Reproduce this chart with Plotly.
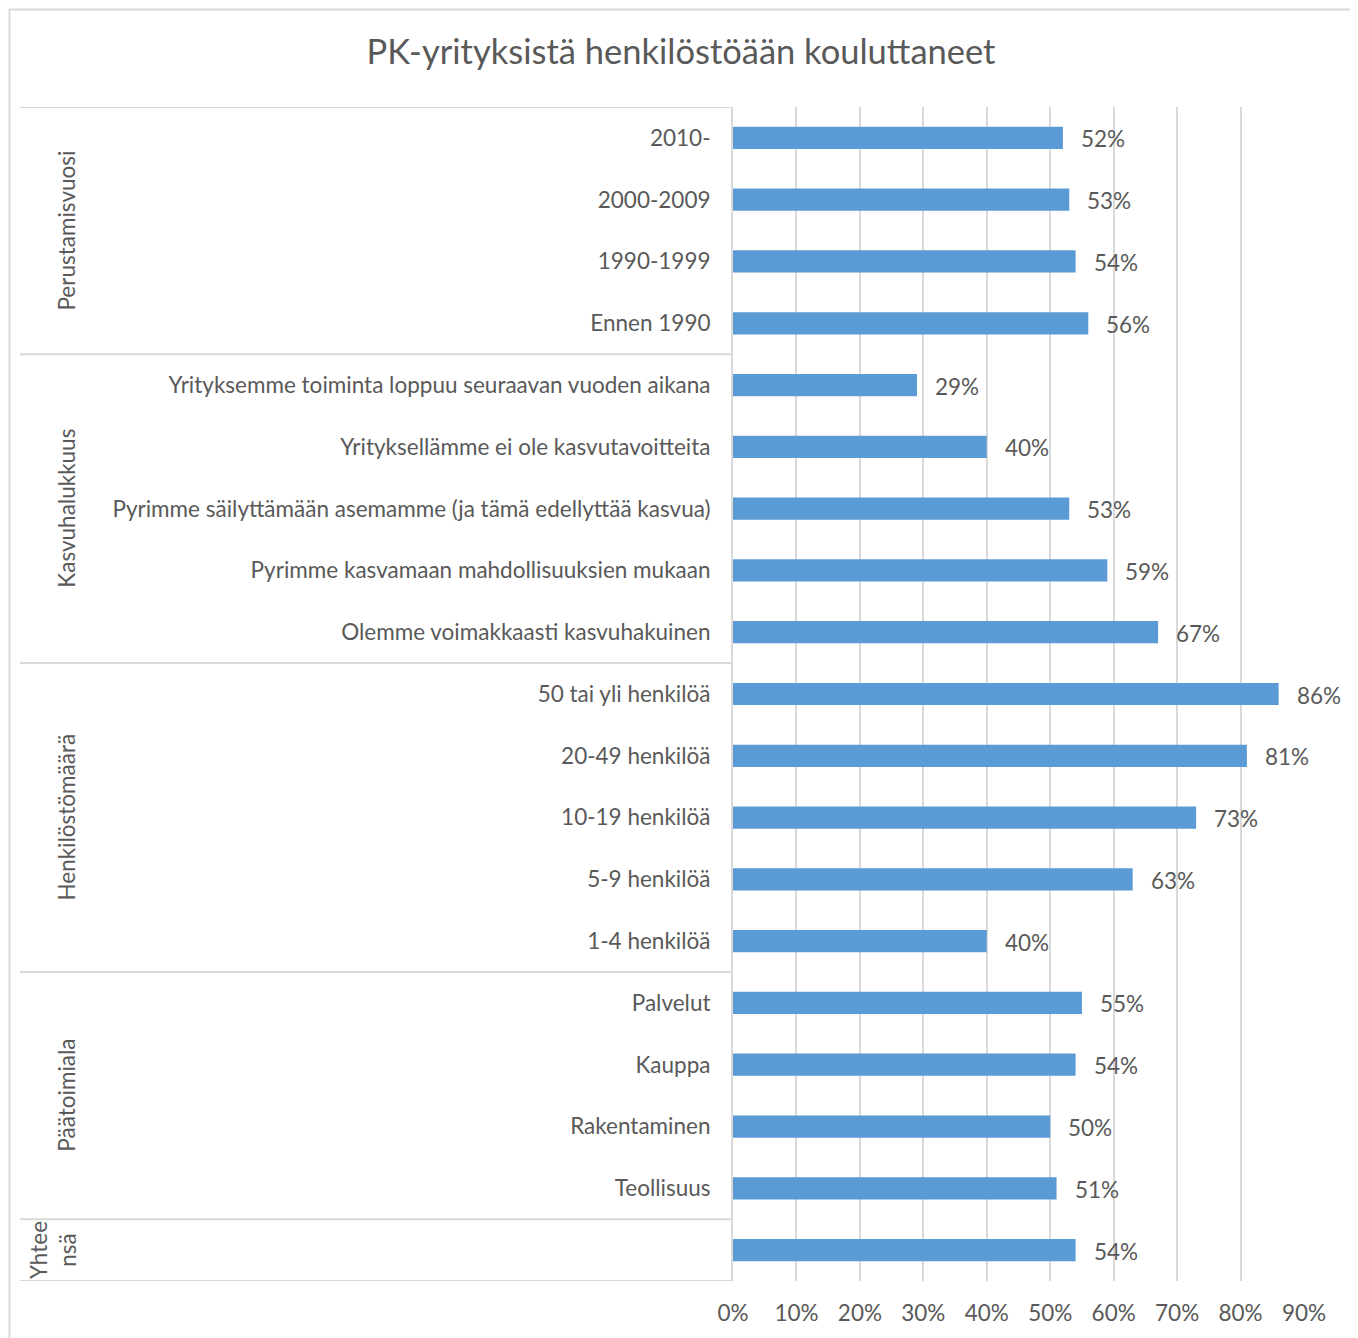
import plotly.graph_objects as go

# rows top to bottom
groups = ["Perustamisvuosi", "Kasvuhalukkuus", "Henkilöstömäärä", "Päätoimiala", "Yhtee<br>nsä"]
group_sizes = [4, 5, 5, 4, 1]
categories = ["2010-", "2000-2009", "1990-1999", "Ennen 1990",
              "Yrityksemme toiminta loppuu seuraavan vuoden aikana",
              "Yrityksellämme ei ole kasvutavoitteita",
              "Pyrimme säilyttämään asemamme (ja tämä edellyttää kasvua)",
              "Pyrimme kasvamaan mahdollisuuksien mukaan",
              "Olemme voimakkaasti kasvuhakuinen",
              "50 tai yli henkilöä", "20-49 henkilöä", "10-19 henkilöä", "5-9 henkilöä", "1-4 henkilöä",
              "Palvelut", "Kauppa", "Rakentaminen", "Teollisuus",
              ""]
values = [52, 53, 54, 56,
          29, 40, 53, 59, 67,
          86, 81, 73, 63, 40,
          55, 54, 50, 51,
          54]
xticks = [0, 10, 20, 30, 40, 50, 60, 70, 80, 90]

W, H = 1358, 1338
OFF = 8  # page body margin
L, R, T, B = 733 - OFF, 1304 - OFF, 107 - OFF, 1281 - OFF   # plot area in figure pixels
grey = "#595959"
line = "#D9D9D9"
font = "Lato"
fs = 22.5

def px(x):  # page pixel -> paper x
    return (x - OFF - L) / (R - L)

def py(y):  # page pixel -> paper y
    return (B - (y - OFF)) / (B - T)

idx = list(range(len(values)))
xs = [v / 100 for v in values]

fig = go.Figure()
fig.add_trace(go.Bar(x=xs, y=idx, orientation="h", width=0.36,
                     marker=dict(color="#5B9BD5", line_width=0)))

shapes = []
# outer chart border
shapes.append(dict(type="rect", xref="paper", yref="paper",
                   x0=px(9.5), x1=px(1354), y0=py(1360), y1=py(9.5),
                   line=dict(color=line, width=2), layer="below"))
# group separators
b = -0.5
bounds = [b]
for s in group_sizes:
    b += s
    bounds.append(b)
for yb in bounds:
    shapes.append(dict(type="line", xref="paper", yref="y", x0=px(20), x1=0,
                       y0=yb, y1=yb, line=dict(color=line, width=2)))

annotations = []
# data labels
for xv, yv, v in zip(xs, idx, values):
    annotations.append(dict(text=f"{v}%", x=xv, y=yv, xref="x", yref="y",
                            xanchor="left", yanchor="middle", xshift=16, yshift=-1,
                            showarrow=False, font=dict(family=font, size=fs, color=grey)))
start = -0.5
for g, s in zip(groups, group_sizes):
    annotations.append(dict(text=g, xref="paper", yref="y",
                            x=px(67) if s > 1 else px(53), y=start + s / 2,
                            textangle=-90, showarrow=False, xanchor="center", yanchor="middle",
                            font=dict(family=font, size=fs, color=grey)))
    start += s

fig.update_layout(
    width=W, height=H,
    margin=dict(l=L, r=W - R, t=T, b=H - B),
    paper_bgcolor="white", plot_bgcolor="white",
    showlegend=False,
    title=dict(text="PK-yrityksistä henkilöstöään kouluttaneet",
               x=(681 - OFF) / W, xref="container", xanchor="center",
               y=1 - (52 - OFF) / H, yanchor="middle",
               font=dict(family=font, size=34.5, color=grey)),
    xaxis=dict(range=[0, 0.9], tickvals=[t / 100 for t in xticks],
               ticktext=[f"{t}%" for t in xticks], showgrid=True, gridcolor=line, gridwidth=2,
               zeroline=False, showline=False, ticks="", ticklabelstandoff=16,
               tickfont=dict(family=font, size=fs, color=grey), fixedrange=True),
    yaxis=dict(range=[len(values) - 0.5, -0.5], tickvals=idx, ticktext=categories,
               showgrid=False, zeroline=False, showline=True, linecolor=line, linewidth=2,
               ticks="", ticklabelstandoff=16,
               tickfont=dict(family=font, size=fs, color=grey)),
    shapes=shapes, annotations=annotations,
)

fig.write_html("out.html")
